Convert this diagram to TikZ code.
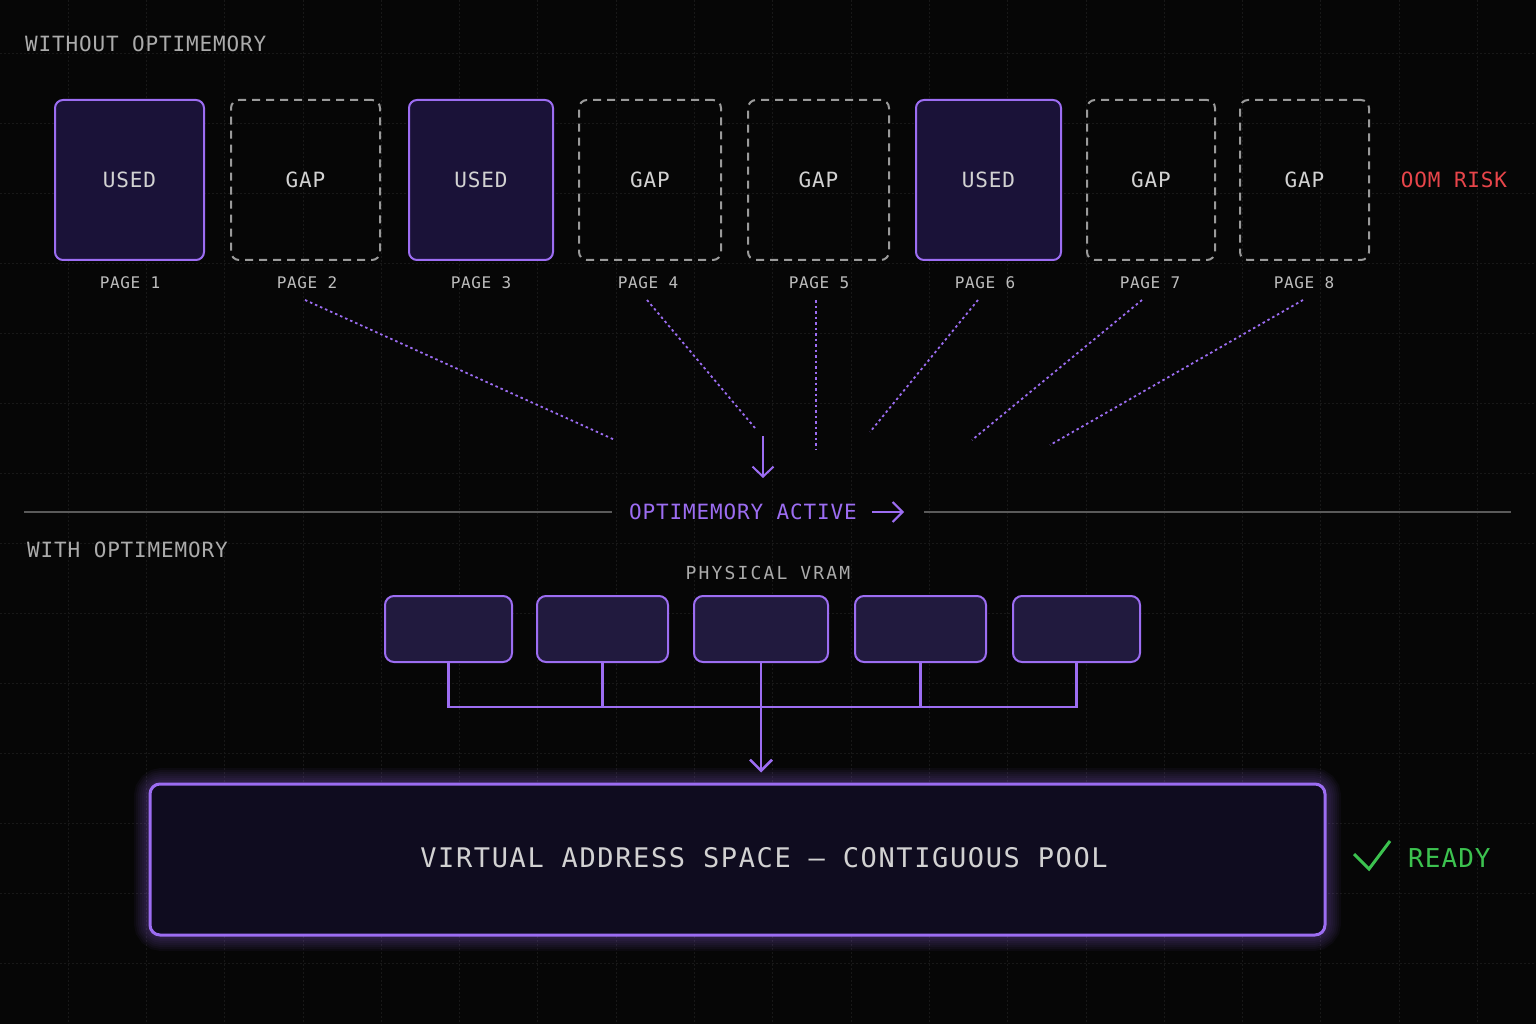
\documentclass[tikz,border=0pt]{standalone}
\usepackage{fontspec}
\usetikzlibrary{arrows.meta}
\newfontfamily\mfA[LetterSpace=4]{DejaVu Sans Mono}
\newfontfamily\mfB[LetterSpace=12]{DejaVu Sans Mono}
\newfontfamily\mfC[LetterSpace=6]{DejaVu Sans Mono}
\definecolor{bgc}{HTML}{060606}
\definecolor{gridc}{HTML}{181818}
\definecolor{purp}{HTML}{9C6DF2}
\definecolor{usedfill}{HTML}{1A1238}
\definecolor{vramfill}{HTML}{211A3E}
\definecolor{bigfill}{HTML}{0F0C1F}
\definecolor{gapc}{HTML}{9A9A9A}
\definecolor{headc}{HTML}{ABABAB}
\definecolor{boxtxt}{HTML}{D2D2D2}
\definecolor{pagec}{HTML}{BDBDBD}
\definecolor{oomc}{HTML}{E8454A}
\definecolor{okc}{HTML}{3CC24F}
\definecolor{sepc}{HTML}{5A5A5A}
\tikzset{
  captxt/.style={inner sep=0pt,text height=#1,text depth=0pt},
  head/.style={captxt=15.3pt,anchor=west,text=headc,font=\mfA\fontsize{21}{21}\selectfont},
  usedbox/.style={draw=purp,line width=2pt,fill=usedfill,rounded corners=8pt,minimum height=160pt,text=boxtxt,font=\mfA\fontsize{21}{21}\selectfont,text height=15.3pt,text depth=0pt},
  gapbox/.style={draw=gapc,line width=2pt,dash pattern=on 8pt off 6pt,rounded corners=8pt,minimum height=160pt,text=boxtxt,font=\mfA\fontsize{21}{21}\selectfont,text height=15.3pt,text depth=0pt},
  pagelab/.style={captxt=11.7pt,text=pagec,font=\mfA\fontsize{16}{16}\selectfont},
  dotline/.style={purp,line width=1.8pt,dash pattern=on 2.5pt off 3pt},
  vram/.style={draw=purp,line width=2pt,fill=vramfill,rounded corners=9pt,minimum height=66pt},
  conn/.style={purp,line width=2.5pt},
  barb/.style={-{Straight Barb[length=10pt,width=21pt]}}
}
\begin{document}
\begin{tikzpicture}[x=1pt,y=-1pt]
\useasboundingbox (0,0) rectangle (1536,1024);
\fill[bgc] (0,0) rectangle (1536,1024);
% faint grid
\foreach \k in {0,...,18} {\draw[gridc,line width=0.8pt,dash pattern=on 2pt off 2pt] ({68+78.3*\k},0) -- ({68+78.3*\k},1024);}
\foreach \k in {0,...,13} {\draw[gridc,line width=0.8pt,dash pattern=on 2pt off 2pt] (0,{53+70*\k}) -- (1536,{53+70*\k});}

% ---- top section
\node[head] (h1) at (25,44) {WITHOUT OPTIMEMORY};

\node[usedbox,minimum width=149pt] (b1) at (129.5,180) {USED};
\node[gapbox,minimum width=149pt] (b2) at (305.5,180) {GAP};
\node[usedbox,minimum width=144pt] (b3) at (481,180) {USED};
\node[gapbox,minimum width=142pt] (b4) at (650,180) {GAP};
\node[gapbox,minimum width=141pt] (b5) at (818.5,180) {GAP};
\node[usedbox,minimum width=145pt] (b6) at (988.5,180) {USED};
\node[gapbox,minimum width=128pt] (b7) at (1151,180) {GAP};
\node[gapbox,minimum width=129pt] (b8) at (1304.5,180) {GAP};
\node[captxt=15.3pt,text=oomc,font=\mfA\fontsize{21}{21}\selectfont] (oom) at (1454,180) {OOM RISK};

\node[pagelab] (l1) at (130,283) {PAGE 1};
\node[pagelab] (l2) at (307,283) {PAGE 2};
\node[pagelab] (l3) at (481,283) {PAGE 3};
\node[pagelab] (l4) at (648,283) {PAGE 4};
\node[pagelab] (l5) at (819,283) {PAGE 5};
\node[pagelab] (l6) at (985,283) {PAGE 6};
\node[pagelab] (l7) at (1150,283) {PAGE 7};
\node[pagelab] (l8) at (1304,283) {PAGE 8};

\coordinate (s2) at (305,300); \coordinate (e2) at (615,440);
\coordinate (s4) at (647,300); \coordinate (e4) at (755,428);
\coordinate (s5) at (816,300); \coordinate (e5) at (816,450);
\coordinate (s6) at (978,300); \coordinate (e6) at (870,432);
\coordinate (s7) at (1142,300); \coordinate (e7) at (972,440);
\coordinate (s8) at (1303,300); \coordinate (e8) at (1050,445);
\foreach \i in {2,4,5,6,7,8} {\draw[dotline] (s\i) -- (e\i);}

\coordinate (dtop) at (763,436);
\coordinate (dbot) at (763,478);
\draw[purp,line width=2pt,barb] (dtop) -- (dbot);

% ---- separator
\node[captxt=15.3pt,text=purp,font=\mfA\fontsize{21}{21}\selectfont] (act) at (743,512) {OPTIMEMORY ACTIVE};
\coordinate (sepL) at (24,512); \coordinate (sepLe) at (612,512);
\coordinate (sepRs) at (924,512); \coordinate (sepR) at (1511,512);
\draw[sepc,line width=1.5pt] (sepL) -- (sepLe);
\draw[sepc,line width=1.5pt] (sepRs) -- (sepR);
\coordinate (ra1) at (872,512); \coordinate (ra2) at (904,512);
\draw[purp,line width=2pt,-{Straight Barb[length=10pt,width=20pt]}] (ra1) -- (ra2);

% ---- bottom section
\node[head] (h2) at (27,550) {WITH OPTIMEMORY};
\node[captxt=13.1pt,text=headc,font=\mfB\fontsize{18}{18}\selectfont] (pv) at (768,573) {PHYSICAL VRAM};

\node[vram,minimum width=127pt] (v1) at (448.5,629) {};
\node[vram,minimum width=131pt] (v2) at (602.5,629) {};
\node[vram,minimum width=134pt] (v3) at (761,629) {};
\node[vram,minimum width=131pt] (v4) at (920.5,629) {};
\node[vram,minimum width=127pt] (v5) at (1076.5,629) {};

% glow of big box
\foreach \w in {32,28,24,20,16,12,8} {
  \draw[purp,line width=\w pt,opacity=0.045,rounded corners=12pt] (150,784) rectangle (1325,935);
}
\node[draw=purp,line width=3pt,fill=bigfill,rounded corners=10pt,minimum width=1175pt,minimum height=151pt] (big) at (737.5,859.5) {};
\node[captxt=19.7pt,text=boxtxt,font=\mfC\fontsize{27}{27}\selectfont] (bigt) at (764,858) {VIRTUAL ADDRESS SPACE — CONTIGUOUS POOL};

\coordinate (bus) at (0,707);
\draw[conn] (v1.south) -- (v1.south |- bus) -- (v5.south |- bus) -- (v5.south);
\draw[conn] (v2.south) -- (v2.south |- bus);
\draw[conn] (v4.south) -- (v4.south |- bus);
\draw[conn,-{Straight Barb[length=11pt,width=22pt]},shorten >=10pt] (v3.south) -- (v3.south |- big.north);

% ready
\coordinate (ck1) at (1354,854);
\coordinate (ck2) at (1369,869);
\coordinate (ck3) at (1390,841);
\draw[okc,line width=3pt] (ck1) -- (ck2) -- (ck3);
\node[captxt=19pt,text=okc,font=\mfA\fontsize{26}{26}\selectfont,anchor=west] (ready) at (1408,858) {READY};
\end{tikzpicture}
\end{document}
